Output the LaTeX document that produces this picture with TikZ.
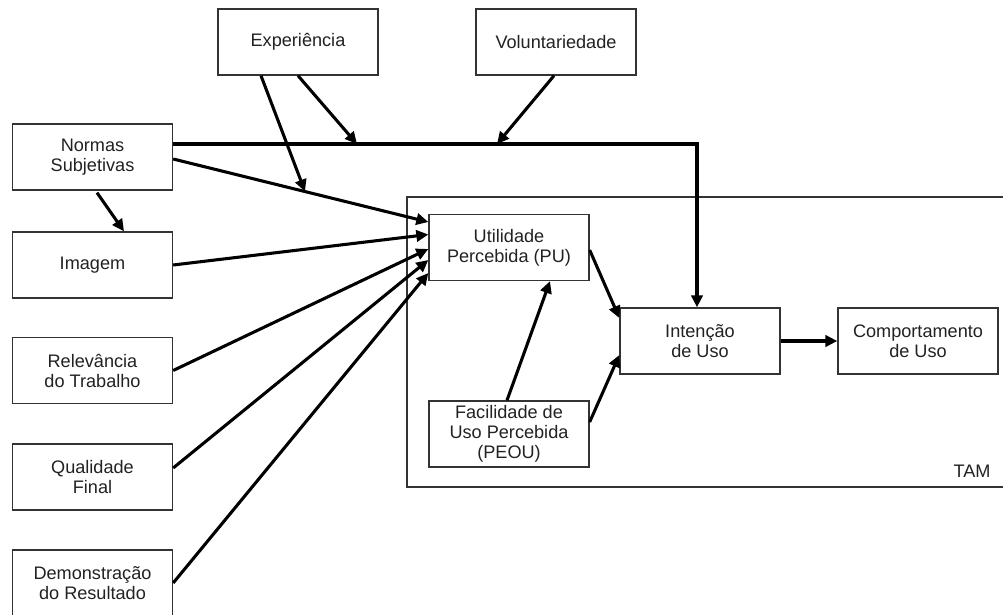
\documentclass[tikz,border=0pt]{standalone}
\usepackage{fontspec}
\setmainfont{Liberation Sans}
\usetikzlibrary{arrows.meta,calc}
\definecolor{boxline}{HTML}{333333}
\definecolor{txt}{HTML}{222222}
\begin{document}
\begin{tikzpicture}[x=0.75pt,y=-0.75pt,
  box/.style={draw=boxline,line width=1pt,minimum width=120pt,minimum height=49.5pt,inner sep=0pt,align=center,text=txt,font=\fontsize{13.6pt}{15pt}\selectfont},
  arr/.style={line width=2.3pt,-{Triangle[length=9pt,width=8.5pt]}}]
\useasboundingbox (0,0) rectangle (1003,614);
\clip (0,0) rectangle (1003,614);
\fill[white] (0,0) rectangle (1003,614);
% TAM frame
\draw[boxline,line width=1pt] (1010,197) -- (407,197) -- (407,487) -- (1010,487);
\node[text=txt,font=\fontsize{13.6pt}{15pt}\selectfont] (tam) at (972,471) {TAM};
% boxes
\node[box] (exp) at (298,42) {Experiência};
\node[box] (vol) at (556,42) {Voluntariedade};
\node[box] (norm) at (92.5,157) {Normas\\Subjetivas};
\node[box] (img) at (92.5,265) {Imagem};
\node[box] (rel) at (92.5,370.5) {Relevância\\do Trabalho};
\node[box] (qual) at (92.5,477) {Qualidade\\Final};
\node[box] (dem) at (92.5,583) {Demonstração\\do Resultado};
\node[box] (pu) at (509,247.5) {Utilidade\\Percebida (PU)};
\node[box] (peou) at (509,434) {Facilidade de\\Uso Percebida\\(PEOU)};
\node[box] (int) at (700,341) {Intenção\\de Uso};
\node[box] (comp) at (918,341) {Comportamento\\de Uso};
% junction points
\coordinate (c1) at (357,144);
\coordinate (c2) at (497,144);
\coordinate (c3) at (305,191.5);
\coordinate (corner) at (697,144);
% connectors
\draw[arr] ($(norm.east)+(0,-13)$) -- (corner) -- ($(int.north)+(-3,0)$);
\draw[arr] (exp.south) -- (c1);
\draw[arr] ($(vol.south)+(-2,0)$) -- (c2);
\draw[arr] ($(exp.south)+(-37,0)$) -- (c3);
\draw[arr] ($(norm.east)+(0,2)$) -- ($(pu.west)+(0,-25.5)$);
\draw[arr] ($(norm.south)+(4.5,2)$) -- ($(img.north)+(31.5,0)$);
\draw[arr] (img.east) -- ($(pu.west)+(0,-13)$);
\draw[arr] (rel.east) -- ($(pu.west)+(0,1.5)$);
\draw[arr] ($(qual.east)+(0,-9)$) -- ($(pu.west)+(0,12.5)$);
\draw[arr] (dem.east) -- ($(pu.west)+(0,25.5)$);
\draw[arr] ($(pu.east)+(0,2.5)$) -- ($(int.west)+(0,-23)$);
\draw[arr] ($(peou.east)+(0,-12)$) -- ($(int.west)+(0,14)$);
\draw[arr] ($(peou.north)+(-2,0)$) -- ($(pu.south)+(41,0)$);
\draw[arr] (int.east) -- (comp.west);
\end{tikzpicture}
\end{document}
